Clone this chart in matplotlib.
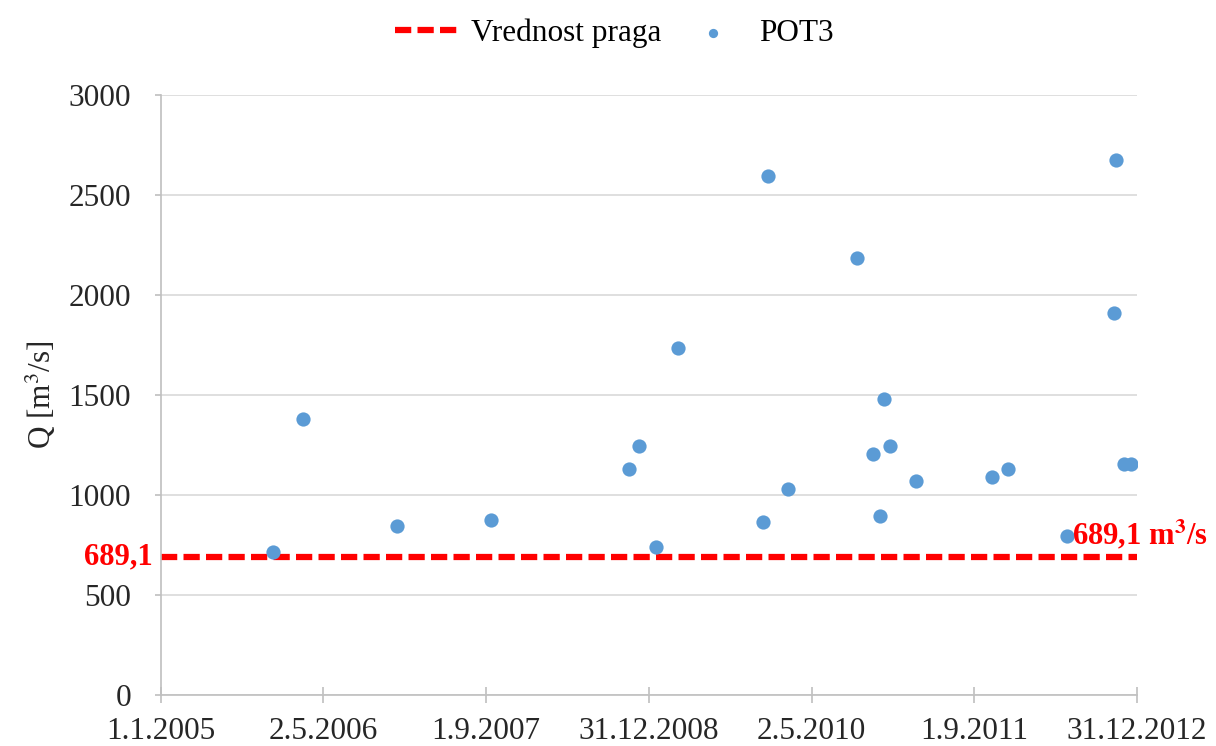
import pandas as pd
import matplotlib
matplotlib.use('Agg')
import matplotlib.pyplot as plt

# POT3 pikovi (datum, protok) ocitani sa grafika
datumi = ['2005-12-03', '2006-03-03', '2006-12-08', '2007-09-17', '2008-11-02',
          '2008-12-01', '2009-01-21', '2009-03-28', '2009-12-09', '2009-12-22',
          '2010-02-20', '2010-09-16', '2010-11-03', '2010-11-22', '2010-12-04',
          '2010-12-23', '2011-03-12', '2011-10-24', '2011-12-12', '2012-06-06',
          '2012-10-24', '2012-10-29', '2012-11-22', '2012-12-13']
protok = [716, 1378, 845, 875, 1131,
          1245, 741, 1735, 867, 2593,
          1030, 2185, 1204, 895, 1480,
          1245, 1070, 1090, 1132, 795,
          1910, 2675, 1153, 1153]

prag = 689.1
tick_datumi = ['2005-01-01', '2006-05-02', '2007-09-01', '2008-12-31',
               '2010-05-02', '2011-09-01', '2012-12-31']
tick_labele = ['1.1.2005', '2.5.2006', '1.9.2007', '31.12.2008',
               '2.5.2010', '1.9.2011', '31.12.2012']

plt.rcParams['font.family'] = ['Liberation Serif', 'DejaVu Serif']
plt.rcParams['mathtext.fontset'] = 'stix'

x = pd.to_datetime(datumi)
xt = pd.to_datetime(tick_datumi)

fig = plt.figure(figsize=(12.16, 7.46), dpi=100)
ax = fig.add_axes([0.1324, 0.0684, 0.8026, 0.8043])

ax.plot([xt[0], xt[-1]], [prag, prag], color='#ff0000', lw=4.5,
        dashes=(2.6, 1.0), label='Vrednost praga', zorder=2)
ax.scatter(x, protok, s=105, color='#5b9bd5', label='POT3', zorder=3,
           linewidths=0)

ax.set_xlim(xt[0], xt[-1])
ax.set_ylim(0, 3000)
ax.set_yticks(range(0, 3001, 500))
ax.set_xticks(xt)
ax.set_xticklabels(tick_labele)

ax.grid(axis='y', color='#d9d9d9', lw=1.2)
ax.set_axisbelow(True)
for s in ['top', 'right']:
    ax.spines[s].set_visible(False)
for s in ['left', 'bottom']:
    ax.spines[s].set_color('#bfbfbf')
    ax.spines[s].set_linewidth(1.2)

ax.tick_params(axis='x', direction='inout', length=11, width=1.2,
               color='#bfbfbf', labelsize=22.5, labelcolor='#262626', pad=10)
ax.tick_params(axis='y', direction='out', length=4.5, width=1.2,
               color='#bfbfbf', labelsize=22.5, labelcolor='#262626', pad=17)

ax.set_ylabel('Q [m$^3$/s]', fontsize=22.5, color='#262626', labelpad=8)

# oznake praga
ax.text(-0.008, prag, '689,1', transform=ax.get_yaxis_transform(),
        ha='right', va='center', color='#ff0000', fontsize=22,
        fontweight='bold')
ax.text(pd.Timestamp('2012-06-20'), prag + 25, '689,1 m$^\\mathbf{3}$/s',
        ha='left', va='bottom', color='#ff0000', fontsize=22,
        fontweight='bold', clip_on=False)

fig.legend(loc='center', bbox_to_anchor=(0.505, 0.955), ncol=2,
           frameon=False, fontsize=22.5, handlelength=2.0,
           handletextpad=0.45, columnspacing=0.65, markerscale=0.65)

fig.savefig('out.png', dpi=100)
